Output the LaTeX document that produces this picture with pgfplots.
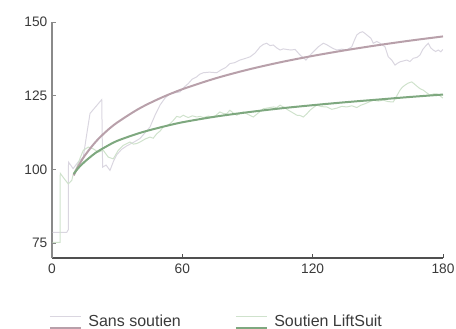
\documentclass[border=0pt]{standalone}
\usepackage{pgfplots}
\pgfplotsset{compat=1.18}
\usepackage{fontspec}
\setmainfont{Liberation Sans}
\definecolor{rawgray}{HTML}{DAD6E0}
\definecolor{rawgreen}{HTML}{CFE2CC}
\definecolor{fitmauve}{HTML}{B8A0AA}
\definecolor{fitgreen}{HTML}{7EA87F}
\definecolor{axgray}{HTML}{8A8A8A}
\definecolor{axdark}{HTML}{505050}
\definecolor{lbl}{HTML}{3A3A3A}
\begin{document}
\begin{tikzpicture}
\begin{axis}[
  name=ax,
  scale only axis,
  width=293.25pt, height=177pt,
  xmin=0, xmax=180, ymin=70, ymax=150,
  axis x line*=bottom, axis y line*=left,
  x axis line style={axdark, line width=0.8pt, -},
  y axis line style={axgray, line width=0.9pt, -},
  xtick={0,60,120,180}, ytick={75,100,125,150},
  tick align=inside, major tick length=3pt,
  x tick style={axdark, line width=0.6pt},
  y tick style={axgray, line width=0.6pt},
  /pgf/number format/assume math mode=true,
  ticklabel style={font=\fontsize{10.3}{12}\selectfont, text=lbl},
  xticklabel style={yshift=-1.2pt},
  clip=false,
  legend columns=2,
  legend style={
    at={(-0.00767,-0.2734)}, anchor=west,
    draw=none, fill=none, inner sep=0pt, outer sep=0pt,
    nodes={inner sep=0pt, text height=9pt, text depth=3pt,
           font=\fontsize{12}{14}\selectfont, text=lbl},
    /tikz/every odd column/.style={column sep=4.8pt},
    /tikz/every even column/.style={column sep=40.5pt},
  },
]
% raw: Sans soutien
\addplot[rawgray, line width=0.75pt, forget plot] coordinates {
(0.3,78.7) (6.8,78.7) (7.5,79.6) (7.6,102.5) (8.5,101.6) (9.7,100.3)
(12.0,102.5) (14.4,104.2) (16.0,112.0) (17.5,119) (19.8,121) (22.9,123.7)
(23.3,100.8) (24.9,101.5) (26.7,99.7) (28.2,102.6) (29.8,105) (32.0,106.8)
(34.4,108) (37.5,109.2) (40.5,110.5) (43.0,112.6) (45.1,114.4) (47.5,118.5)
(49.7,121.8) (52.0,124.2) (54.3,125.7) (56.5,126.0) (58.9,126.3) (60.8,127.9)
(62.7,129.1) (64.5,130.6) (66.6,131.4) (68.0,132.3) (69.7,132.8) (72.5,133.0)
(75.8,132.8) (78.1,133.9) (80.0,134.6) (81.9,135.9) (84.0,136.2) (86.5,137.1)
(88.8,137.6) (91.2,138.2) (93.5,139.5) (95.8,141.6) (97.3,142.4) (98.8,142.8)
(100.4,142.0) (101.9,142.2) (103.5,141.2) (105.0,140.5) (106.5,140.9)
(108.0,140.7) (110.0,140.5) (111.9,140.7) (113.0,139.8) (114.2,138.8)
(115.5,138.0) (116.9,137.1) (118.6,138.6) (120.3,139.9) (122.6,141.6)
(124.9,142.8) (126.5,142.3) (128.0,141.6) (129.5,141.0) (131.1,140.5)
(133.4,140.8) (135.7,140.5) (138.0,141.6) (139.2,143.8) (140.3,145.6)
(141.7,146.4) (143.0,146.7) (144.3,146.0) (145.6,145.2) (146.8,144.5)
(147.9,142.8) (149.5,143.4) (151.0,142.8) (153.3,141.6) (154.8,138.2)
(156.4,137.1) (157.9,135.4) (159.0,136.0) (160.2,136.5) (161.8,136.8)
(163.3,137.1) (164.8,136.6) (166.3,137.7) (168.0,138.0) (169.4,138.8)
(170.6,140.6) (171.7,141.6) (173.2,142.8) (174.4,141.2) (175.5,140.5)
(176.6,140.0) (177.8,140.5) (179.0,139.9) (179.9,140.7)
};
% raw: Soutien LiftSuit
\addplot[rawgreen, line width=0.75pt, forget plot] coordinates {
(0.3,75.3) (3.7,75.3) (3.8,98.7) (5.5,97.0) (7.5,95.1) (9.1,96.3) (9.8,98.5)
(11.4,100.8) (13.0,104.0) (14.4,106.5) (16.7,107.6) (19.0,107.0) (21.3,105.9)
(23.6,106.5) (25.9,104.2) (28.2,103.6) (30.5,106.5) (32.8,108.2) (35.9,109.3)
(37.5,108.6) (39.0,108.8) (40.5,109.3) (42.8,110.3) (45.1,111.0) (46.6,110.6)
(48.2,112.1) (49.7,113.0) (51.2,114.4) (52.8,114.8) (54.3,115.5) (55.8,116.6)
(57.4,118.0) (59.0,117.7) (60.4,118.4) (61.5,118.0) (62.7,117.6) (64.6,118.2)
(66.6,117.8) (68.2,118.0) (69.7,117.6) (72.0,118.1) (74.3,117.6) (75.8,118.6)
(77.3,119.5) (78.8,119.0) (80.4,118.9) (81.9,120.1) (83.5,119.1) (85.0,118.4)
(86.5,118.9) (88.1,119.5) (90.4,118.6) (92.7,117.8) (95.0,119.2) (97.3,120.6)
(99.6,120.9) (101.9,121.2) (103.5,121.0) (105.0,121.8) (107.0,121.0)
(108.8,120.1) (110.7,119.3) (112.7,118.4) (114.2,118.3) (115.7,117.8)
(117.2,118.8) (118.8,120.1) (120.3,121.0) (121.9,121.8) (124.2,121.3)
(126.5,121.2) (128.8,120.4) (131.1,120.8) (133.4,121.4) (135.7,121.2)
(138.0,121.6) (140.3,121.0) (142.2,121.8) (144.1,122.3) (146.0,122.9)
(147.9,123.5) (150.2,123.2) (152.5,123.5) (154.8,123.0) (157.1,122.9)
(158.6,124.8) (160.2,126.9) (161.3,127.9) (162.5,128.6) (164.0,129.3)
(165.6,129.7) (166.8,129.0) (167.9,128.3) (169.4,127.4) (170.9,126.9)
(172.5,126.0) (174.0,125.2) (175.6,125.6) (177.1,125.6) (178.6,125.0)
(179.9,124.2)
};
% fits
\addplot[fitmauve, line width=1.5pt, smooth, forget plot] coordinates {
(10,98.0) (12,100.97) (15,104.61) (20,109.30) (25,112.94) (30,115.91)
(40,120.60) (50,124.23) (60,127.21) (75,130.84) (90,133.82) (105,136.33)
(120,138.50) (135,140.42) (150,142.14) (165,143.70) (180,145.11)
};
\addplot[fitgreen, line width=1.5pt, smooth, forget plot] coordinates {
(10,98.5) (12,100.4) (15,102.6) (20,105.6) (25,107.8) (30,109.7) (40,112.3)
(50,114.3) (60,116.0) (75,117.9) (90,119.4) (105,120.7) (120,121.8)
(135,122.8) (150,123.7) (165,124.6) (180,125.4)
};
\addlegendimage{legend image code/.code={
  \path (0pt,-6pt) (0pt,6pt);
  \draw[rawgray, line width=0.75pt] (0pt,4.35pt) -- (23.25pt,4.35pt);
  \draw[fitmauve, line width=1.5pt] (0pt,-3.9pt) -- (23.25pt,-3.9pt);
}}
\addlegendentry{Sans soutien}
\addlegendimage{legend image code/.code={
  \path (0pt,-6pt) (0pt,6pt);
  \draw[rawgreen, line width=0.75pt] (0pt,4.35pt) -- (23.25pt,4.35pt);
  \draw[fitgreen, line width=1.5pt] (0pt,-3.9pt) -- (23.25pt,-3.9pt);
}}
\addlegendentry{Soutien LiftSuit}
\end{axis}
\pgfresetboundingbox
\path ([xshift=-39pt,yshift=-53.25pt]ax.south west) rectangle ([xshift=9.75pt,yshift=16.5pt]ax.north east);
\end{tikzpicture}
\end{document}
